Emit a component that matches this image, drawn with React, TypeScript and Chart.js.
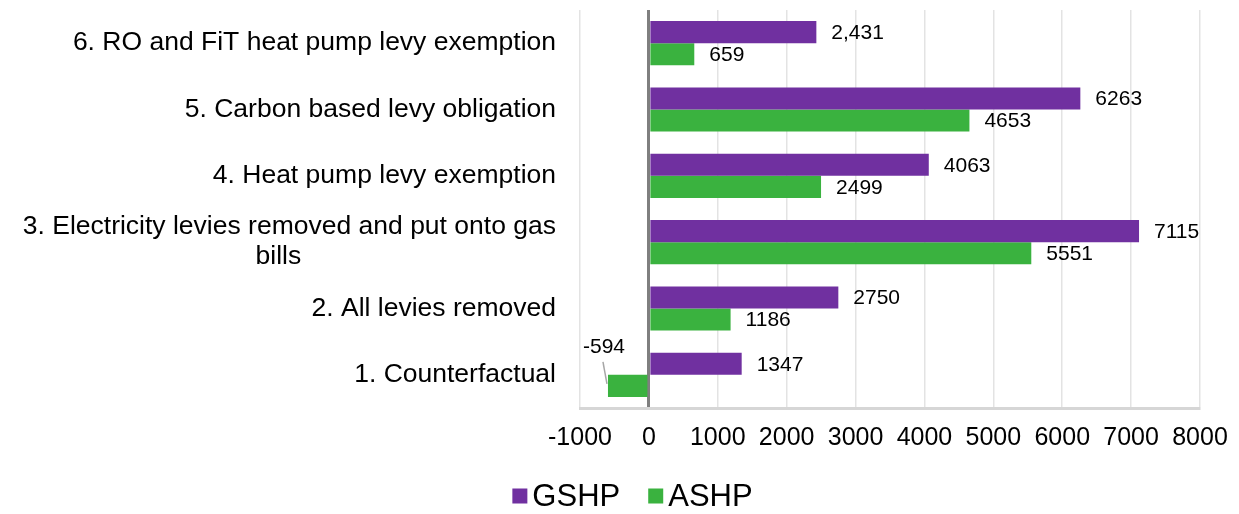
import React, { useEffect, useRef } from "react";
import { Chart, registerables } from "chart.js";

Chart.register(...registerables);

const categories: (string | string[])[] = [
  "6. RO and FiT heat pump levy exemption",
  "5. Carbon based levy obligation",
  "4. Heat pump levy exemption",
  ["3. Electricity levies removed and put onto gas", "bills"],
  "2. All levies removed",
  "1. Counterfactual",
];
const gshpValues = [2431, 6263, 4063, 7115, 2750, 1347];
const ashpValues = [659, 4653, 2499, 5551, 1186, -594];
const gshpLabelText = ["2,431", "6263", "4063", "7115", "2750", "1347"];
const ashpLabelText = ["659", "4653", "2499", "5551", "1186", "-594"];
const xMin = -1000;
const xMax = 8000;
const xStep = 1000;

const FONT = "'Liberation Sans', Arial, sans-serif";
const PURPLE = "#7030A0";
const GREEN = "#3AB23F";

const labelsPlugin = {
  id: "customLabels",
  afterDatasetsDraw(chart: any) {
    const ctx = chart.ctx;
    ctx.save();
    ctx.font = `21px ${FONT}`;
    ctx.fillStyle = "#000";
    const texts = [gshpLabelText, ashpLabelText];
    chart.data.datasets.forEach((ds: any, di: number) => {
      const meta = chart.getDatasetMeta(di);
      meta.data.forEach((bar: any, i: number) => {
        const v = ds.data[i];
        const t = texts[di][i];
        if (v >= 0) {
          ctx.textAlign = "left";
          ctx.textBaseline = "middle";
          ctx.fillText(t, bar.x + 15, bar.y + 1);
        } else {
          ctx.textAlign = "center";
          ctx.textBaseline = "middle";
          ctx.fillText(t, bar.x - 4, bar.y - 39);
          ctx.strokeStyle = "#a6a6a6";
          ctx.lineWidth = 1.5;
          ctx.beginPath();
          ctx.moveTo(bar.x - 5, bar.y - 24);
          ctx.lineTo(bar.x - 1, bar.y - 2);
          ctx.stroke();
        }
      });
    });
    // category labels
    const y = chart.scales.y;
    const right = chart.chartArea.left - 24;
    ctx.font = `26.5px ${FONT}`;
    ctx.textBaseline = "middle";
    categories.forEach((c, i) => {
      const py = y.getPixelForValue(i);
      if (Array.isArray(c)) {
        const lh = 30;
        const w1 = ctx.measureText(c[0]).width;
        const cx = right - w1 / 2;
        const start = py - ((c.length - 1) * lh) / 2;
        c.forEach((line, li) => {
          if (li === 0) {
            ctx.textAlign = "right";
            ctx.fillText(line, right, start);
          } else {
            ctx.textAlign = "center";
            ctx.fillText(line, cx - 11, start + li * lh);
          }
        });
      } else {
        ctx.textAlign = "right";
        ctx.fillText(c, right, py);
      }
    });
    // legend
    ctx.font = `31px ${FONT}`;
    const box = 15;
    const gapBoxText = 5;
    const gapItems = 28;
    const items = chart.data.datasets.map((ds: any) => ({
      text: ds.label,
      color: ds.backgroundColor,
      w: box + gapBoxText + ctx.measureText(ds.label).width,
    }));
    const total = items.reduce((s: number, it: any) => s + it.w, 0) + gapItems * (items.length - 1);
    let lx = chart.width / 2 + 13 - total / 2;
    const ly = 496;
    items.forEach((it: any) => {
      ctx.fillStyle = it.color;
      ctx.fillRect(lx, ly - box / 2, box, box);
      ctx.fillStyle = "#000";
      ctx.textAlign = "left";
      ctx.textBaseline = "middle";
      ctx.fillText(it.text, lx + box + gapBoxText, ly + 1);
      lx += it.w + gapItems;
    });
    ctx.restore();
  },
};

export default function App() {
  const ref = useRef<HTMLCanvasElement | null>(null);
  useEffect(() => {
    if (!ref.current) return;
    const chart = new Chart(ref.current, {
      type: "bar",
      data: {
        labels: categories.map((c) => (Array.isArray(c) ? c.join(" ") : c)),
        datasets: [
          {
            label: "GSHP",
            data: gshpValues,
            backgroundColor: PURPLE,
            borderWidth: 0,
            categoryPercentage: 0.665,
            barPercentage: 1,
          },
          {
            label: "ASHP",
            data: ashpValues,
            backgroundColor: GREEN,
            borderWidth: 0,
            categoryPercentage: 0.665,
            barPercentage: 1,
          },
        ],
      },
      options: {
        indexAxis: "y",
        animation: false,
        responsive: false,
        maintainAspectRatio: false,
        layout: { padding: { left: 0, right: 39, top: 10, bottom: 46 } },
        scales: {
          x: {
            min: xMin,
            max: xMax,
            ticks: {
              stepSize: xStep,
              font: { family: FONT, size: 25 },
              color: "#000",
              padding: 15,
              maxRotation: 0,
              callback: (v: any) => String(v),
            },
            grid: {
              drawTicks: false,
              color: (c: any) => (c.tick && c.tick.value === 0 ? "#7f7f7f" : "#e3e3e3"),
              lineWidth: (c: any) => (c.tick && c.tick.value === 0 ? 3 : 1.5),
            },
            border: { display: true, color: "#d6d6d6", width: 3 },
            afterFit: (s: any) => {
              s.paddingRight = 0;
              s.paddingLeft = 0;
            },
          },
          y: {
            ticks: { display: false },
            grid: { display: false, drawTicks: false },
            border: { display: false },
            afterFit: (s: any) => {
              s.width = 580;
            },
          },
        },
        plugins: {
          legend: { display: false },
          tooltip: { enabled: false },
        },
      },
      plugins: [labelsPlugin],
    });
    return () => chart.destroy();
  }, []);
  return (
    <div style={{ position: "fixed", left: 0, top: 0, width: 1239, height: 514, background: "#fff" }}>
      <canvas ref={ref} width={1239} height={514} style={{ width: 1239, height: 514 }} />
    </div>
  );
}
